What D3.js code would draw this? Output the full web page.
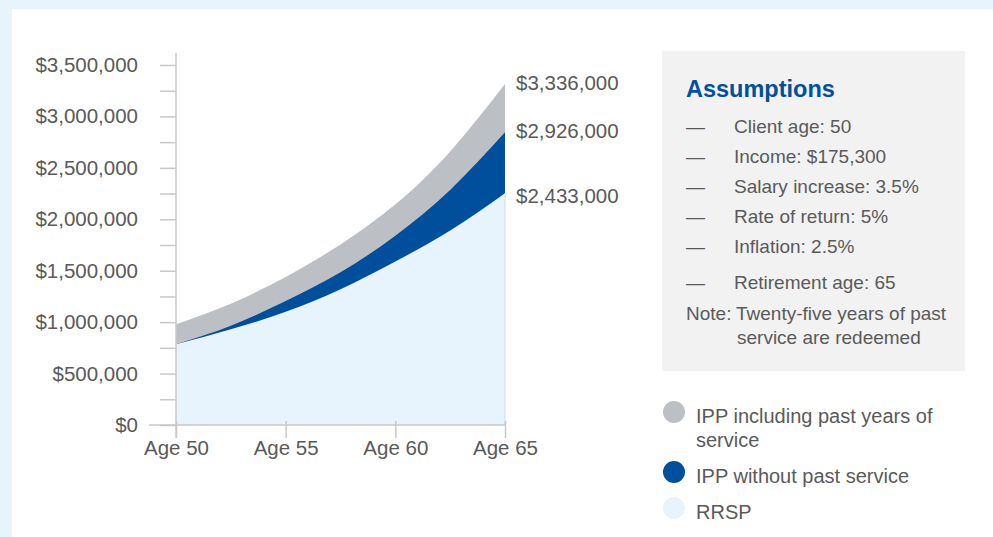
<!DOCTYPE html>
<html>
<head>
<meta charset="utf-8">
<script src="https://cdn.jsdelivr.net/npm/d3@7"></script>
<style>
  body { margin: 0; background: #e8f4fc; }
  svg text { font-family: "Liberation Sans", Arial, sans-serif; fill: #5a5a5a; }
</style>
</head>
<body>
<svg id="chart" width="993" height="537"></svg>
<script>
// values
const ages = [50, 52.5, 55, 57.5, 60, 62.5, 65];
const ippPast = [979000, 1180000, 1440000, 1755000, 2145000, 2660000, 3315000];
const ippNoPast = [784000, 965000, 1205000, 1485000, 1840000, 2285000, 2845000];
const rrsp = [784000, 930000, 1100000, 1320000, 1590000, 1890000, 2252000];

const ageTicks = [50, 55, 60, 65];
const endLabels = ["$3,336,000", "$2,926,000", "$2,433,000"];

const assumptions = [
  "Client age: 50",
  "Income: $175,300",
  "Salary increase: 3.5%",
  "Rate of return: 5%",
  "Inflation: 2.5%",
  "Retirement age: 65"
];
const seriesNames = ["IPP including past years of", "IPP without past service", "RRSP"];
const seriesColors = ["#bcc0c5", "#004f9c", "#e7f4fd"];

const svg = d3.select("#chart");

// white panel
svg.append("rect")
  .attr("x", 12).attr("y", 9)
  .attr("width", 993).attr("height", 537)
  .attr("fill", "#fff");

const x = d3.scaleLinear().domain([50, 65]).range([176, 505]);
const y = d3.scaleLinear().domain([0, 3500000]).range([425, 65]);

const area = (vals) => d3.area()
  .x((d, i) => x(ages[i]))
  .y0(y(0))
  .y1((d) => y(d))
  .curve(d3.curveNatural)(vals);

[ippPast, ippNoPast, rrsp].forEach((vals, i) => {
  svg.append("path")
    .attr("d", area(vals))
    .attr("fill", seriesColors[i]);
});

// thin edge on right of the rrsp area
svg.append("line")
  .attr("x1", x(65)).attr("x2", x(65))
  .attr("y1", y(rrsp[rrsp.length - 1])).attr("y2", y(0))
  .attr("stroke", "#cbdde9")
  .attr("stroke-width", 1);

// y axis
const yAxis = svg.append("g")
  .attr("transform", `translate(${x(50)},0)`)
  .call(d3.axisLeft(y)
    .tickValues(d3.range(0, 3500001, 250000))
    .tickSize(16)
    .tickPadding(22)
    .tickFormat((d) => d % 500000 === 0 ? "$" + d3.format(",")(d) : ""));
yAxis.select(".domain").remove();
yAxis.selectAll("line").attr("stroke", "#c8c8c8").attr("stroke-width", 1.5);
yAxis.selectAll("text").style("font-size", "20.5px");

svg.append("line")
  .attr("x1", x(50)).attr("x2", x(50))
  .attr("y1", 53).attr("y2", 438)
  .attr("stroke", "#c8c8c8").attr("stroke-width", 1.5);

// x axis
const xAxis = svg.append("g")
  .attr("transform", `translate(0,${y(0)})`)
  .call(d3.axisBottom(x)
    .tickValues(ageTicks)
    .tickSizeInner(13)
    .tickSizeOuter(0)
    .tickPadding(2)
    .tickFormat((d) => "Age " + d));
xAxis.select(".domain").remove();
xAxis.selectAll("line").attr("y1", -4).attr("stroke", "#c8c8c8").attr("stroke-width", 1.5);
xAxis.selectAll("text").style("font-size", "20.5px");

svg.append("line")
  .attr("x1", 149).attr("x2", x(65))
  .attr("y1", y(0)).attr("y2", y(0))
  .attr("stroke", "#c8c8c8").attr("stroke-width", 1.5);

// end value labels
const endY = [90, 138, 203];
endLabels.forEach((t, i) => {
  svg.append("text")
    .attr("x", 516).attr("y", endY[i])
    .style("font-size", "20.5px")
    .text(t);
});

// assumptions box
svg.append("rect")
  .attr("x", 662).attr("y", 51)
  .attr("width", 303).attr("height", 320)
  .attr("fill", "#f2f2f2");

svg.append("text")
  .attr("x", 686).attr("y", 97)
  .style("font-size", "23.5px")
  .style("font-weight", "bold")
  .style("fill", "#00509d")
  .text("Assumptions");

const itemY = [133, 163, 193, 223, 253, 289];
assumptions.forEach((t, i) => {
  svg.append("text")
    .attr("x", 686).attr("y", itemY[i])
    .style("font-size", "19px")
    .text("\u2014");
  svg.append("text")
    .attr("x", 734).attr("y", itemY[i])
    .style("font-size", "19px")
    .text(t);
});

svg.append("text")
  .attr("x", 686).attr("y", 320)
  .style("font-size", "19px")
  .text("Note:");
svg.append("text")
  .attr("x", 736).attr("y", 320)
  .style("font-size", "19px")
  .text("Twenty-five years of past");
svg.append("text")
  .attr("x", 737).attr("y", 344)
  .style("font-size", "19px")
  .text("service are redeemed");

// legend
const legendY = [412, 472, 508];
seriesNames.forEach((name, i) => {
  svg.append("circle")
    .attr("cx", 674).attr("cy", legendY[i])
    .attr("r", 11)
    .attr("fill", seriesColors[i]);
  svg.append("text")
    .attr("x", 696).attr("y", legendY[i] + 11)
    .style("font-size", "20px")
    .text(name);
});
svg.append("text")
  .attr("x", 696).attr("y", 447)
  .style("font-size", "20px")
  .text("service");
</script>
</body>
</html>
